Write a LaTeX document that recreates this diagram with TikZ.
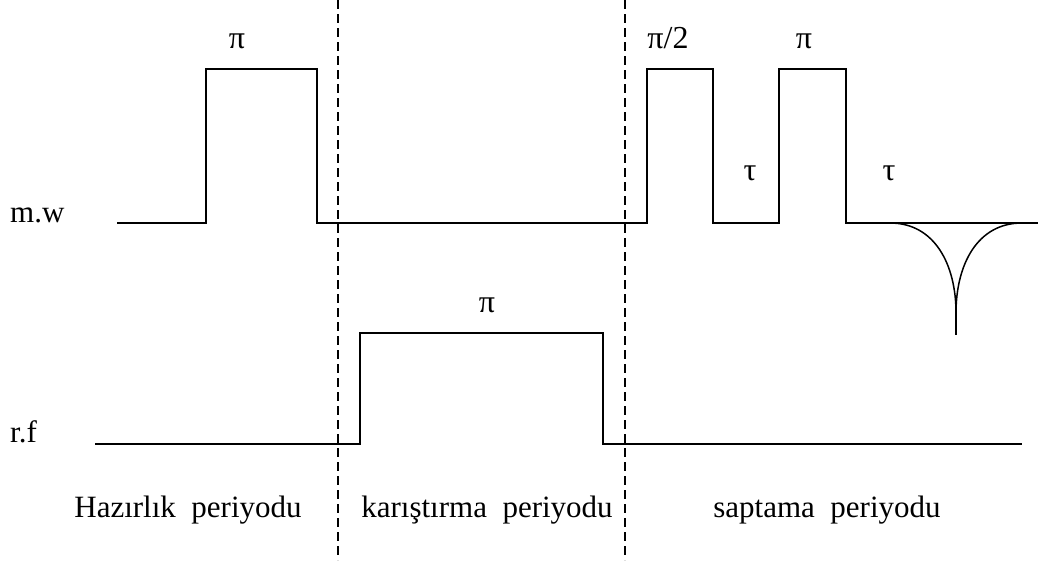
\documentclass[tikz,border=0pt]{standalone}
\usepackage{fontspec}
\setmainfont{Liberation Serif}
\begin{document}
\begin{tikzpicture}[x=1pt,y=-1pt,
  sig/.style={line width=1.5pt, line join=miter},
  divider/.style={line width=1.5pt, dash pattern=on 9pt off 5pt},
  lab/.style={inner sep=0pt, anchor=base, font=\fontsize{32}{36}\selectfont},
  axislab/.style={inner sep=0pt, anchor=base west, font=\fontsize{31}{36}\selectfont},
  period/.style={inner sep=0pt, anchor=base, font=\fontsize{31}{36}\selectfont}]
\useasboundingbox (0,0) rectangle (1039,560);
% dividers
\coordinate (d1t) at (338,0); \coordinate (d1b) at (338,560);
\coordinate (d2t) at (625,0); \coordinate (d2b) at (625,560);
\draw[divider] (d1t) -- (d1b);
\draw[divider] (d2t) -- (d2b);
% m.w channel
\draw[sig] (117,223) -- (206,223) -- (206,69) -- (317,69) -- (317,223)
  -- (647,223) -- (647,69) -- (713,69) -- (713,223)
  -- (779,223) -- (779,69) -- (846,69) -- (846,223) -- (1038,223);
% echo
\draw[sig] (890,223) .. controls (935,223) and (956,265) .. (956,313)
  .. controls (956,265) and (977,223) .. (1022,223);
\draw[sig] (956,310) -- (956,335);
% r.f channel
\draw[sig] (95,444) -- (360,444) -- (360,333) -- (603,333) -- (603,444) -- (1022,444);
% labels
\node[axislab] (mw) at (10,222) {m.w};
\node[axislab] (rf) at (10,442) {r.f};
\node[lab] (p1) at (237,48) {π};
\node[lab] (p2) at (668,48) {π/2};
\node[lab] (p3) at (804,48) {π};
\node[lab] (t1) at (750,180) {τ};
\node[lab] (t2) at (889,180) {τ};
\node[lab] (p4) at (487,312) {π};
\node[period] (h) at (188,517) {Hazırlık\ \ periyodu};
\node[period] (k) at (487,517) {karıştırma\ \ periyodu};
\node[period] (s) at (827,517) {saptama\ \ periyodu};
\end{tikzpicture}
\end{document}
